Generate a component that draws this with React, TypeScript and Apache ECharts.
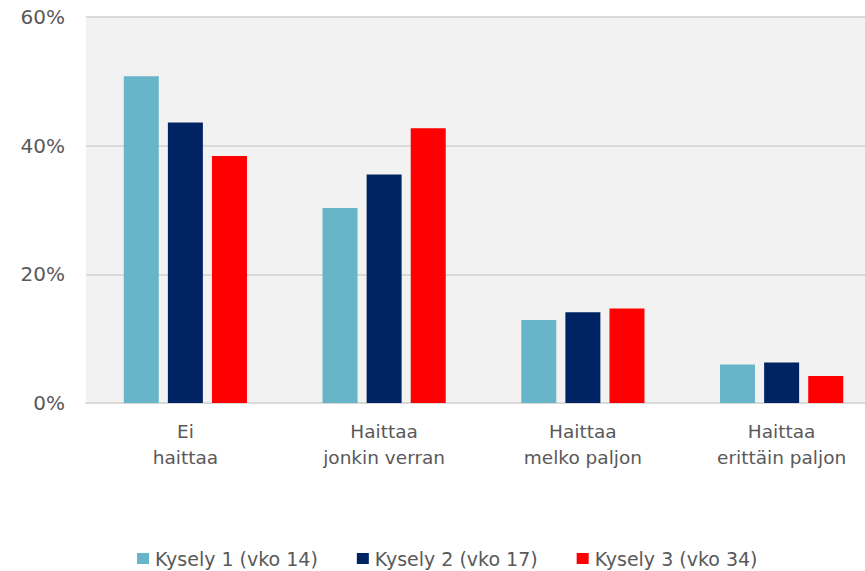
import React, { useEffect, useRef } from "react";
import * as echarts from "echarts";

const categories = ["Ei\nhaittaa", "Haittaa\njonkin verran", "Haittaa\nmelko paljon", "Haittaa\nerittäin paljon"];
const seriesNames = ["Kysely 1 (vko 14)", "Kysely 2 (vko 17)", "Kysely 3 (vko 34)"];
const kysely1 = [50.8, 30.3, 12.9, 6.0];
const kysely2 = [43.6, 35.5, 14.1, 6.3];
const kysely3 = [38.4, 42.7, 14.7, 4.2];
const colors = ["#68B4C8", "#002463", "#FF0000"];

export default function App() {
  const ref = useRef<HTMLDivElement>(null);
  useEffect(() => {
    if (!ref.current) return;
    const chart = echarts.init(ref.current, null, { renderer: "svg" });
    const font = "DejaVu Sans";
    const data = [kysely1, kysely2, kysely3];
    chart.setOption({
      animation: false,
      textStyle: { fontFamily: font },
      grid: {
        left: 86,
        right: 0,
        top: 17,
        bottom: 168,
        show: true,
        backgroundColor: "#F2F2F2",
        borderWidth: 0,
      },
      legend: {
        left: 132,
        top: 544,
        itemWidth: 12,
        itemHeight: 11,
        itemGap: 39,
        icon: "rect",
        textStyle: { fontFamily: font, fontSize: 19, color: "#595959", padding: [0, 0, 0, 1] },
        data: seriesNames,
      },
      xAxis: {
        type: "category",
        data: categories,
        axisLine: { lineStyle: { color: "#D9D9D9", width: 2 } },
        axisTick: { show: false },
        axisLabel: {
          fontFamily: font,
          fontSize: 18.5,
          lineHeight: 26,
          color: "#595959",
          margin: 15,
          interval: 0,
        },
      },
      yAxis: {
        type: "value",
        min: 0,
        max: 60,
        interval: 20,
        axisLine: { show: false },
        axisTick: { show: false },
        splitLine: { lineStyle: { color: "#D9D9D9", width: 2 } },
        axisLabel: {
          formatter: "{value}%",
          fontFamily: font,
          fontSize: 20,
          color: "#595959",
          margin: 21,
        },
      },
      series: seriesNames.map((name, i) => ({
        name,
        type: "bar",
        data: data[i],
        barWidth: 35,
        barGap: "26%",
        itemStyle: { color: colors[i] },
      })),
    });
    return () => chart.dispose();
  }, []);
  return (
    <div
      style={{ position: "absolute", left: 0, top: 0, width: 865, height: 571, overflow: "hidden" }}
    >
      <div ref={ref} style={{ width: 881, height: 571 }} />
    </div>
  );
}
